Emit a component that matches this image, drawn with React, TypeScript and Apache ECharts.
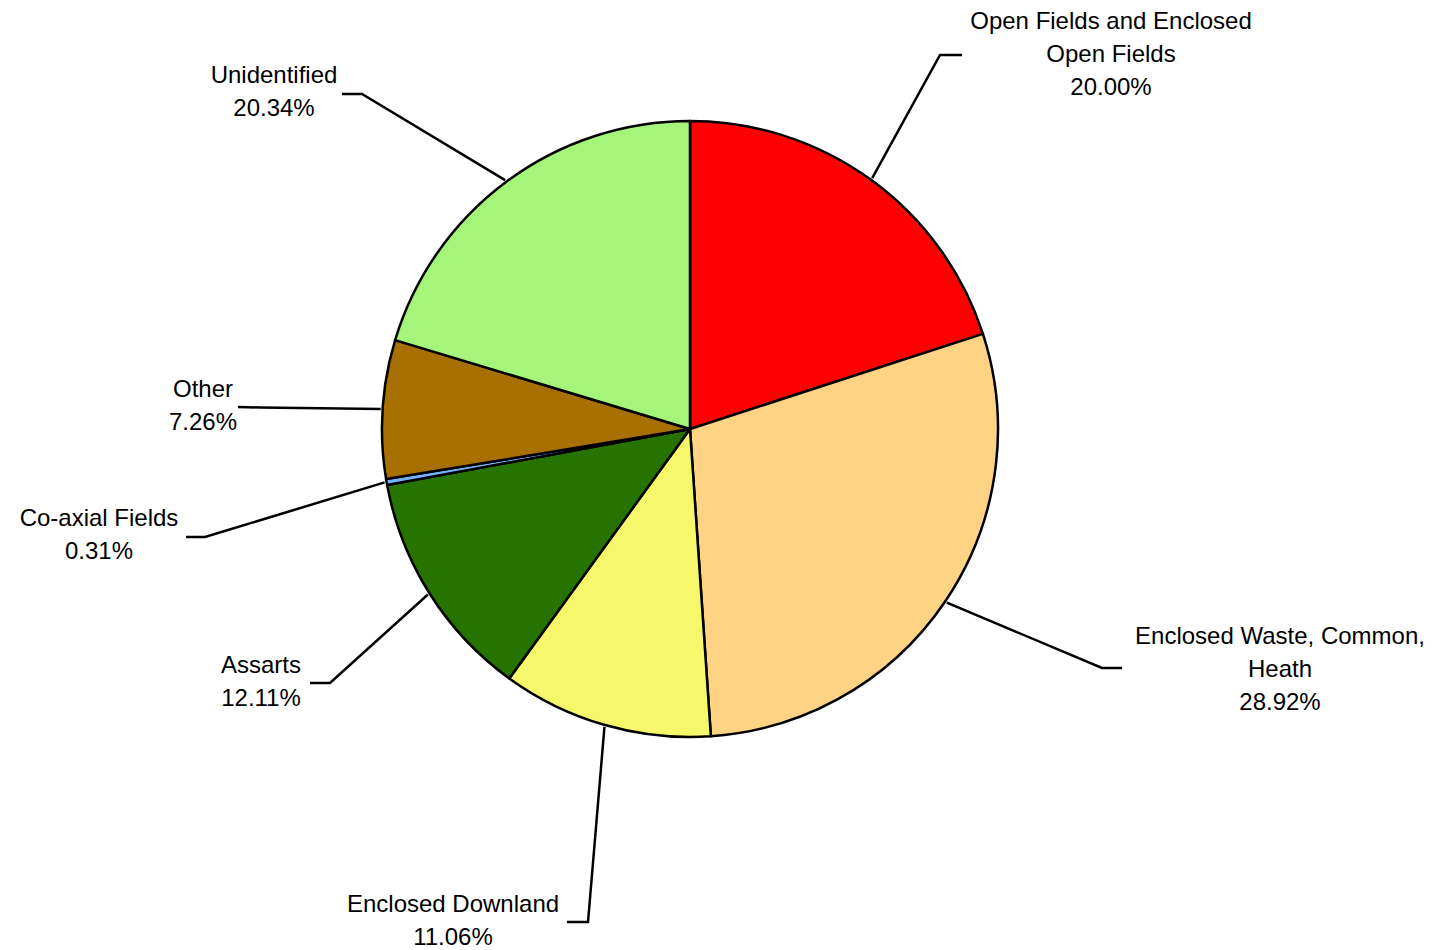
import React, { useEffect, useRef } from "react";
import * as echarts from "echarts";

const categories = [
  "Open Fields and Enclosed\nOpen Fields",
  "Enclosed Waste, Common,\nHeath",
  "Enclosed Downland",
  "Assarts",
  "Co-axial Fields",
  "Other",
  "Unidentified",
];
const values = [20.0, 28.92, 11.06, 12.11, 0.31, 7.26, 20.34];
const colors = ["#FF0000", "#FFD384", "#F7F76C", "#267300", "#73B2FF", "#A87000", "#A5F57A"];

// label placement (centre of text block) and leader-line elbow/end points
const labelCenters = [
  [1111, 53],
  [1280, 668],
  [453, 920],
  [261, 681],
  [99, 534],
  [203, 405],
  [274, 91],
];
const lineElbows = [
  [[940, 55], [962, 55]],
  [[1102, 668], [1122, 668]],
  [[588, 922], [567, 922]],
  [[330, 683], [310, 683]],
  [[205, 537], [186, 537]],
  [[260, 407.5], [238, 407]],
  [[362, 94], [342, 94]],
];

const CX = 690;
const CY = 429;
const R = 308;

export default function App() {
  const ref = useRef<HTMLDivElement>(null);
  useEffect(() => {
    if (!ref.current) return;
    const chart = echarts.init(ref.current, undefined, { renderer: "svg" });
    const total = values.reduce((a, b) => a + b, 0);
    const edgePoint = (i: number) => {
      let before = 0;
      for (let k = 0; k < i; k++) before += values[k];
      const mid = before + values[i] / 2;
      const ang = (90 - (mid / total) * 360) * (Math.PI / 180);
      return [CX + (R + 2) * Math.cos(ang), CY - (R + 2) * Math.sin(ang)];
    };
    chart.setOption({
      animation: false,
      backgroundColor: "#ffffff",
      series: [
        {
          type: "pie",
          center: [CX, CY],
          radius: [0, R],
          startAngle: 90,
          clockwise: true,
          silent: true,
          avoidLabelOverlap: false,
          data: categories.map((name, i) => ({
            name,
            value: values[i],
            itemStyle: { color: colors[i] },
          })),
          itemStyle: { borderColor: "#000000", borderWidth: 2.5, borderJoin: "round" },
          label: {
            show: true,
            position: "outside",
            formatter: (p: any) => `${p.name}\n${values[p.dataIndex].toFixed(2)}%`,
            color: "#000000",
            fontFamily: "Liberation Sans, Arial, sans-serif",
            fontSize: 24,
            lineHeight: 33,
            align: "center",
          },
          labelLine: {
            show: true,
            lineStyle: { color: "#000000", width: 2.5 },
          },
          labelLayout: (params: any) => {
            const i = params.dataIndex;
            const start = edgePoint(i);
            return {
              x: labelCenters[i][0],
              y: labelCenters[i][1],
              align: "center",
              verticalAlign: "middle",
              labelLinePoints: [start, lineElbows[i][0], lineElbows[i][1]],
            };
          },
        },
      ],
    });
    return () => chart.dispose();
  }, []);
  return (
    <div
      ref={ref}
      style={{ position: "absolute", left: 0, top: 0, width: 1447, height: 950, background: "#fff" }}
    />
  );
}
